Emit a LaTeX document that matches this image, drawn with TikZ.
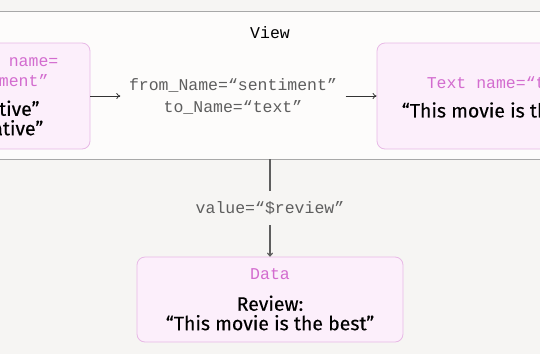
\documentclass[tikz,border=0pt]{standalone}
\usepackage{fontspec}
\setmainfont{Fira Sans}[FakeBold=0.25]
\setmonofont{Liberation Mono}
\usetikzlibrary{arrows.meta}
\definecolor{pagebg}{HTML}{F6F5F3}
\definecolor{viewbg}{HTML}{FDFCFB}
\definecolor{bandline}{HTML}{A8A8A8}
\definecolor{boxfill}{HTML}{FCEFFB}
\definecolor{boxline}{HTML}{E8B9E6}
\definecolor{magenta}{HTML}{D36CCF}
\definecolor{labgray}{HTML}{5E5E5E}
\definecolor{conncol}{HTML}{333333}
\tikzset{
  viewband/.style={fill=viewbg, draw=none, inner sep=0pt, minimum width=544pt, minimum height=147pt},
  boxnode/.style={draw=boxline, fill=boxfill, line width=0.8pt, rounded corners=8pt, inner sep=0pt},
  titletext/.style={text=magenta, font=\fontsize{16.5}{20}\selectfont\ttfamily, align=center, inner sep=0pt},
  bodytext/.style={text=black, font=\fontsize{19.5}{19.5}\selectfont, align=center, inner sep=0pt},
  maptext/.style={text=labgray, font=\fontsize{16.5}{22}\selectfont\ttfamily, align=center, inner xsep=8.5pt, inner ysep=0pt},
  conn/.style={draw=conncol, line width=0.8pt, -{To[length=4pt,width=6pt]}},
  vconn/.style={draw=labgray, line width=1.1pt}
}
\begin{document}
\begin{tikzpicture}[x=1pt,y=-1pt]
\useasboundingbox (0,0) rectangle (540,354);
\fill[pagebg] (0,0) rectangle (540,354);
\node[viewband] (view) at (270,85.5) {};
\draw[bandline, line width=1.1pt] (view.north west) -- (view.north east);
\draw[bandline, line width=1.1pt] (view.south west) -- (view.south east);
\node[text=black, font=\fontsize{16.5}{20}\selectfont\ttfamily, inner sep=0pt] (viewtitle) at (270,33) {View};

% left box
\node[boxnode, minimum width=200pt, minimum height=106pt] (choices) at (-10,96) {};
\node[titletext] (chtitle) at (-6,71) {Choices name=\\“sentiment”};
\node[bodytext] (chbody) at (-3,120) {“Positive”\\“Negative”};

% right box
\node[boxnode, minimum width=258pt, minimum height=106pt] (textbox) at (506,96) {};
\node[titletext] (txtitle) at (506,83) {Text name=“text”};
\node[bodytext] (txbody) at (506,110) {“This movie is the best”};

% mapping label
\node[maptext] (map) at (233,96) {from\_Name=“sentiment”\\to\_Name=“text”};
\draw[conn] (choices.east) -- (map.west);
\draw[conn] (map.east) -- (textbox.west);

% data box
\node[boxnode, minimum width=266pt, minimum height=85pt] (data) at (270,299.5) {};
\node[titletext] (datatitle) at (270,274) {Data};
\node[bodytext] (databody) at (270,313) {Review:\\“This movie is the best”};

% value connector
\node[text=labgray, font=\fontsize{16.5}{20}\selectfont\ttfamily, inner sep=0pt, minimum height=34pt] (val) at (270,208) {value=“\$review”};
\draw[vconn] (view.south) -- (val.north);
\draw[vconn, -{To[length=4pt,width=6pt]}] (val.south) -- (data.north);
\end{tikzpicture}
\end{document}
